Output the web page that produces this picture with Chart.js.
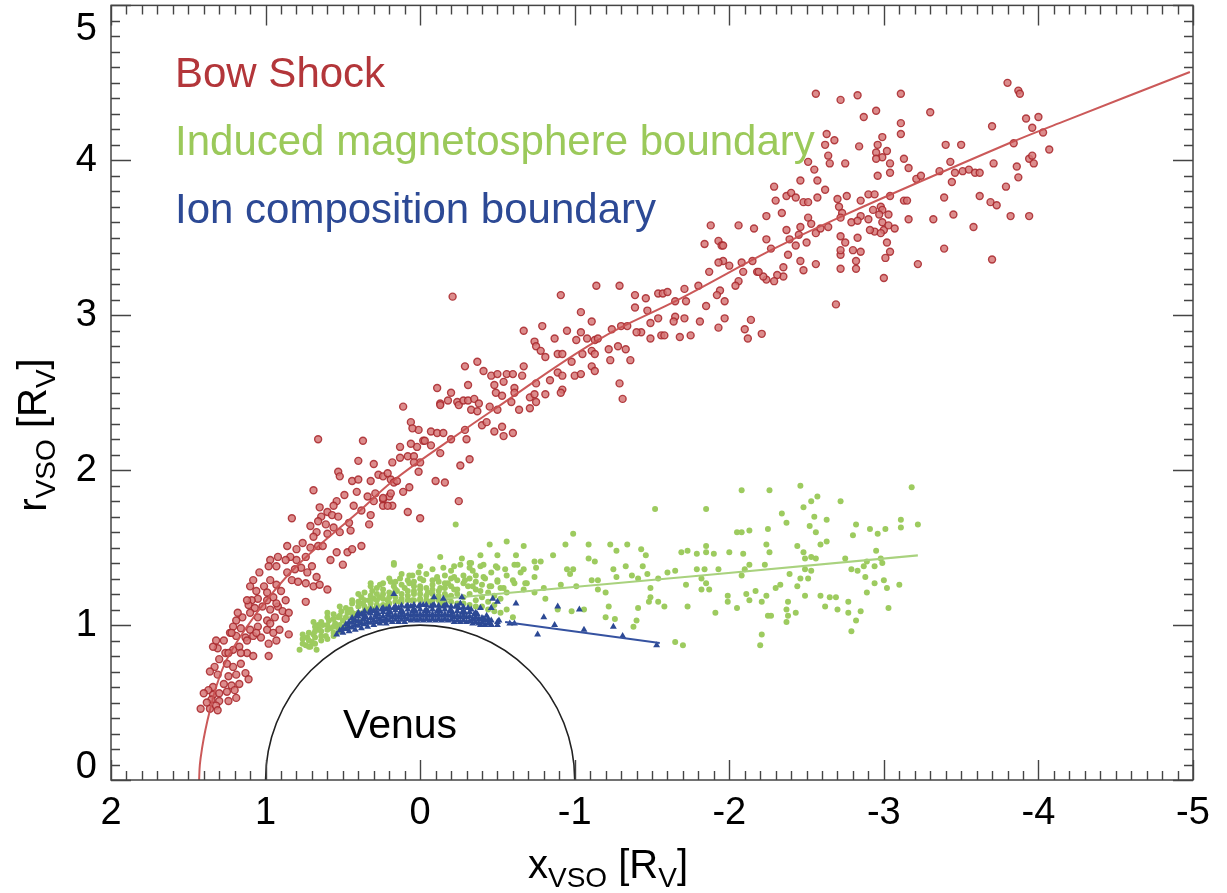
<!DOCTYPE html>
<html>
<head>
<meta charset="utf-8">
<script src="https://cdn.jsdelivr.net/npm/chart.js@4.4.1/dist/chart.umd.min.js"></script>
<style>
  body { margin: 0; background: #fff; }
  canvas { display: block; background: #fff; }
</style>
</head>
<body>
<canvas id="venusChart" width="1227" height="893"></canvas>
<script>
// bow shock crossings [x, r] in R_V
const bowShockPoints = [
  [0.11,2.41],[-0.13,2.43],[0.06,2.31],[0.01,2.26],[-0.07,2.25],[-0.11,2.24],[-0.15,2.24],[0.05,2.27],[0.66,2.20],[0.37,2.19],
  [-0.02,2.19],[0.02,2.15],[0.06,2.17],[0.13,2.15],[-0.13,2.11],[0.40,2.06],[0.30,2.04],[0.18,2.05],[0.13,2.08],[0.08,2.09],
  [0.0,2.05],[0.53,1.99],[0.52,1.96],[0.44,1.93],[0.40,1.94],[0.32,1.93],[0.27,1.97],[0.24,1.96],[0.19,1.94],[0.17,1.92],
  [0.07,1.89],[0.11,1.86],[-0.10,1.93],[-0.16,1.92],[0.69,1.87],[0.49,1.84],[0.41,1.86],[0.34,1.83],[0.29,1.85],[0.24,1.81],
  [0.20,1.83],[0.30,1.80],[0.54,1.80],[0.56,1.77],[0.60,1.73],[0.65,1.76],[0.64,1.70],[0.57,1.71],[0.53,1.70],[0.43,1.77],
  [0.38,1.74],[0.32,1.71],[0.24,1.77],[0.18,1.77],[0.08,1.73],[0.0,1.69],[0.83,1.69],[0.71,1.64],[0.66,1.67],[0.61,1.65],
  [0.67,1.60],[0.69,1.57],[0.60,1.59],[0.56,1.63],[0.52,1.60],[0.45,1.61],[0.46,1.66],[0.33,1.65],[0.86,1.51],[0.80,1.49],
  [0.76,1.53],[0.71,1.50],[0.66,1.51],[0.74,1.44],[0.80,1.42],[0.84,1.44],[0.87,1.42],[0.92,1.44],[0.97,1.42],[0.93,1.38],
  [0.63,1.51],[0.58,1.42],[0.54,1.47],[0.50,1.39],[0.47,1.47],[0.44,1.49],[0.38,1.51],[0.70,1.38],[0.67,1.31],[0.73,1.34],
  [0.77,1.37],[0.81,1.36],[0.86,1.34],[0.83,1.29],[0.79,1.28],[0.74,1.27],[0.69,1.25],[0.60,1.23],[0.65,1.26],[0.74,1.15],
  [0.98,1.38],[1.04,1.34],[1.08,1.29],[1.10,1.25],[1.06,1.22],[1.01,1.25],[0.97,1.29],[0.93,1.26],[0.90,1.22],[0.95,1.18],
  [0.99,1.16],[1.05,1.17],[1.09,1.16],[1.11,1.13],[1.07,1.11],[1.02,1.12],[0.97,1.10],[0.92,1.12],[0.89,1.09],[0.94,1.05],
  [0.99,1.03],[1.05,1.05],[1.10,1.08],[1.15,1.05],[1.19,1.03],[1.21,0.99],[1.16,0.98],[1.10,0.97],[1.05,0.99],[0.99,0.97],
  [0.95,0.95],[0.91,0.97],[0.93,0.90],[0.98,0.88],[1.03,0.92],[1.08,0.93],[1.13,0.92],[1.19,0.93],[1.23,0.95],[0.85,0.94],
  [0.98,0.80],[1.27,0.90],[1.31,0.85],[1.34,0.86],[1.26,0.82],[1.21,0.84],[1.17,0.86],[1.12,0.82],[1.08,0.80],[1.16,0.75],
  [1.21,0.73],[1.25,0.75],[1.30,0.78],[1.33,0.73],[1.36,0.70],[1.31,0.68],[1.24,0.67],[1.19,0.68],[1.13,0.69],[1.11,0.65],
  [1.17,0.62],[1.22,0.61],[1.27,0.62],[1.34,0.60],[1.37,0.58],[1.40,0.56],[1.34,0.55],[1.30,0.56],[1.25,0.57],[1.20,0.58],
  [1.19,0.53],[1.24,0.51],[1.30,0.51],[1.35,0.52],[1.38,0.50],[1.42,0.46],[1.36,0.46],[1.32,0.48],[1.31,0.45],[1.12,1.16],
  [1.18,1.08],[1.22,0.95],[1.32,0.90],[1.12,0.90],[0.85,1.08],[0.87,1.16],[0.99,1.21],[0.93,1.14],[0.87,1.04],[0.97,1.01],
  [1.06,0.95],[1.16,0.82],[1.24,0.82],
  [-0.20,2.20],[-0.29,2.26],[-0.30,2.20],[-0.25,1.80],[-0.26,2.03],[-0.32,2.07],[-0.03,2.19],[-0.07,2.16],[0.04,2.09],[0.21,1.98],
  [0.15,1.93],[0.19,1.85],[0.24,1.82],[0.21,1.77],[0.04,2.05],[0.01,1.99],
  [-0.21,3.12],[-0.11,2.53],[-0.13,2.42],[-0.18,2.45],[-0.20,2.50],[-0.24,2.44],[-0.25,2.42],[-0.28,2.45],[-0.31,2.45],[-0.35,2.46],
  [-0.38,2.43],[-0.33,2.39],[-0.37,2.38],[-0.29,2.67],[-0.31,2.55],[-0.37,2.70],[-0.41,2.64],[-0.46,2.61],[-0.50,2.62],[-0.56,2.62],
  [-0.60,2.62],[-0.66,2.61],[-0.67,2.67],[-0.48,2.55],[-0.54,2.57],[-0.61,2.53],[-0.61,2.50],[-0.49,2.50],[-0.53,2.48],[-0.59,2.44],
  [-0.45,2.41],[-0.50,2.39],[-0.64,2.39],[-0.71,2.47],[-0.75,2.44],[-0.74,2.49],[-0.71,2.40],[-0.75,2.56],[-0.81,2.49],[-0.40,2.29],
  [-0.43,2.31],[-0.48,2.25],[-0.53,2.28],[-0.54,2.22],[-0.60,2.24],[-0.79,2.93],[-0.67,2.90],[-0.74,2.83],[-0.75,2.80],[-0.78,2.77],
  [-0.81,2.73],[-0.87,2.85],[-0.89,2.75],[-0.92,2.75],[-0.84,2.58],[-0.89,2.63],[-0.92,2.61],[-0.92,2.52],[-0.91,2.50],[-0.98,2.70],
  [-1.00,2.61],[-1.04,2.62],[-1.01,2.84],[-1.04,2.89],[-1.08,2.85],[-1.13,2.84],[-1.15,2.85],[-1.11,2.77],[-1.05,2.75],[-1.13,2.75],
  [-1.11,2.67],[-1.13,2.64],[-0.95,2.90],[-0.91,3.13],[-1.04,3.02],[-1.11,2.96],[-1.14,3.19],[-1.29,3.19],[-1.24,2.91],[-1.23,2.71],
  [-1.22,2.78],[-1.28,2.80],[-1.33,2.78],[-1.36,2.71],[-1.29,2.56],[-1.31,2.46],[-1.30,2.93],[-1.34,2.93],[-1.39,3.13],[-1.39,3.05],
  [-1.46,3.11],[-1.47,3.03],[-1.49,2.95],[-1.49,2.85],[-1.43,2.89],[-1.40,2.89],[-1.54,2.98],[-1.54,3.14],[-1.57,3.14],[-1.60,3.15],
  [-1.56,2.87],[-1.58,2.87],[-1.65,3.09],[-1.65,2.99],[-1.64,2.96],[-1.68,2.86],
  [-2.69,3.07],[-2.21,2.88],[-2.14,2.97],[-2.10,2.91],[-2.12,2.85],[-1.97,2.98],[-1.93,2.92],[-1.97,3.09],[-1.85,3.06],[-1.81,2.96],
  [-1.75,2.87],[-1.71,2.98],[-1.72,3.09],
  [-2.56,4.43],[-2.72,4.39],[-2.83,4.42],[-3.11,4.43],[-2.95,4.32],[-2.87,4.28],[-3.30,4.31],[-3.80,4.50],[-3.87,4.45],[-3.88,4.43],
  [-3.92,4.27],[-4.00,4.28],[-3.96,4.21],[-4.07,4.07],[-3.70,4.22],[-3.11,4.24],[-3.11,4.17],[-2.99,4.15],[-2.96,4.10],[-3.02,4.06],
  [-2.95,4.05],[-2.99,4.02],[-2.95,4.01],[-3.04,3.98],[-3.13,4.01],[-3.16,3.95],[-3.04,3.92],[-2.84,4.09],[-2.75,3.98],[-2.63,4.17],
  [-2.68,4.13],[-2.62,4.10],[-2.64,4.03],[-2.65,3.98],[-2.51,3.99],[-2.55,3.94],[-2.57,3.87],[-2.46,3.87],[-2.62,3.81],[-2.29,3.83],
  [-2.30,3.74],[-2.37,3.77],[-2.40,3.79],[-2.43,3.76],[-2.34,3.66],[-2.24,3.64],[-2.48,3.73],[-2.51,3.73],[-2.57,3.76],[-2.70,3.75],
  [-2.76,3.77],[-2.71,3.70],[-2.73,3.66],[-2.72,3.63],[-2.79,3.60],[-2.85,3.74],[-2.90,3.78],[-2.94,3.78],[-3.04,3.77],[-2.96,3.90],
  [-2.93,3.68],[-2.98,3.70],[-2.99,3.68],[-2.97,3.65],[-3.03,3.65],[-2.90,3.62],[-2.85,3.64],[-2.83,3.61],[-2.99,3.60],[-3.00,3.55],
  [-3.03,3.58],[-3.07,3.56],[-2.94,3.54],[-2.98,3.53],[-2.91,3.55],[-3.02,3.47],[-3.04,3.41],[-3.01,3.37],[-3.00,3.24],[-2.83,3.50],
  [-2.80,3.42],[-2.85,3.41],[-2.82,3.35],[-2.82,3.30],[-2.72,3.30],[-2.72,3.39],[-2.72,3.42],[-2.75,3.47],[-2.72,3.51],[-2.51,3.63],
  [-2.53,3.59],[-2.46,3.57],[-2.45,3.52],[-2.50,3.47],[-2.56,3.53],[-2.59,3.56],[-2.64,3.57],[-2.46,3.35],[-2.48,3.29],[-2.56,3.33],
  [-2.38,3.39],[-2.43,3.45],[-2.37,3.55],[-2.39,3.49],[-2.35,3.31],[-2.35,3.25],[-2.31,3.26],[-2.29,3.22],[-2.24,3.23],[-2.22,3.25],
  [-2.18,3.28],[-2.08,3.34],[-2.09,3.28],[-2.06,3.22],[-2.04,3.19],[-2.00,3.32],[-1.96,3.35],[-1.93,3.34],[-1.93,3.48],[-1.95,3.45],
  [-1.96,3.45],[-1.84,3.46],[-1.88,3.58],[-2.06,3.58],[-2.16,3.56],[-2.24,3.49],[-2.27,3.43],[-1.87,3.28],[-1.71,3.17],[-1.80,3.19],
  [-1.94,3.16],[-1.92,3.13],[-2.15,3.35],[-2.19,3.28],
  [-3.21,3.88],[-3.24,3.90],[-3.36,3.93],[-3.43,3.99],[-3.40,4.10],[-3.50,4.10],[-3.46,3.92],[-3.51,3.93],[-3.55,3.94],[-3.59,3.92],
  [-3.62,3.92],[-3.44,3.86],[-3.39,3.76],[-3.45,3.65],[-3.32,3.62],[-3.39,3.43],[-3.22,3.33],[-3.58,3.57],[-3.62,3.77],[-3.69,3.73],
  [-3.73,3.71],[-3.71,3.98],[-3.79,3.83],[-3.82,3.64],[-3.86,3.96],[-3.87,3.89],[-3.84,4.11],[-3.94,3.64],[-3.94,4.01],[-3.96,4.03],
  [-3.97,3.98],[-3.70,3.36],[-4.03,4.18],[-3.13,3.74],[-3.15,3.74],[-3.16,3.62]
];

// induced magnetosphere boundary crossings
const imbPoints = [
  [0.78,0.84],[0.74,0.87],[0.70,0.89],[0.73,0.92],[0.69,0.94],[0.69,1.02],[0.65,0.97],[0.63,1.00],[0.59,1.03],[0.58,0.98],
  [0.55,1.01],[0.53,1.05],[0.50,1.03],[0.47,1.08],[0.45,1.10],[0.42,1.07],[0.40,1.12],[0.37,1.14],[0.34,1.10],[0.33,1.16],
  [0.30,1.17],[0.28,1.13],[0.26,1.18],[0.24,1.23],[0.21,1.16],[0.18,1.20],[0.17,1.25],[0.15,1.22],[0.12,1.17],[0.10,1.24],
  [0.07,1.27],[0.05,1.32],[0.04,1.22],[0.00,1.25],[-0.02,1.29],[-0.05,1.21],[-0.08,1.26],[-0.11,1.31],[-0.13,1.24],[-0.16,1.27],
  [-0.20,1.35],[-0.22,1.23],[-0.24,1.29],[-0.26,1.39],[-0.28,1.32],[-0.31,1.25],[-0.34,1.35],[-0.36,1.28],[-0.39,1.38],[-0.41,1.31],
  [-0.45,1.25],[-0.46,1.34],[-0.49,1.38],[-0.50,1.29],[-0.52,1.24],[-0.56,1.32],[-0.61,1.39],[-0.61,1.27],[-0.65,1.34],[-0.69,1.27],
  [-0.74,1.31],[0.17,1.40],[0.07,1.32],[-0.06,1.15],[-0.13,1.14],[-0.18,1.18],[0.39,1.02],[0.47,0.98],[0.56,0.95],[0.64,0.90],
  [0.71,0.86],[0.67,0.84],[0.76,0.94],[0.66,1.00],[0.60,1.05],[0.51,1.09],[0.44,1.14],[0.38,1.18],[0.31,1.22],[0.19,1.28],
  [0.13,1.30],[0.01,1.34],[-0.08,1.36],[-0.15,1.37],[-0.22,1.38],[-0.32,1.40],[0.26,1.26],[0.32,1.27],[0.00,1.38],[0.53,0.98],
  [0.61,0.93],[0.43,1.03],[0.30,1.10],[0.21,1.13],[0.13,1.15],[0.05,1.16],[0.00,1.17],
  [0.76,0.88],[0.76,0.91],[0.72,0.86],[0.72,0.90],[0.72,0.95],[0.68,0.88],[0.68,0.92],[0.68,0.96],[0.68,0.99],[0.64,0.93],
  [0.64,0.96],[0.64,1.02],[0.60,0.91],[0.60,0.97],[0.60,1.00],[0.60,1.08],[0.56,0.93],[0.56,0.99],[0.56,1.04],[0.56,1.07],
  [0.52,0.96],[0.52,1.00],[0.52,1.06],[0.52,1.12],[0.48,1.00],[0.48,1.05],[0.48,1.11],[0.44,1.05],[0.44,1.08],[0.44,1.16],
  [0.40,1.08],[0.40,1.15],[0.40,1.20],[0.36,1.09],[0.36,1.12],[0.36,1.16],[0.36,1.21],[0.32,1.11],[0.32,1.14],[0.32,1.19],
  [0.32,1.25],[0.28,1.12],[0.28,1.16],[0.28,1.20],[0.28,1.24],[0.24,1.13],[0.24,1.17],[0.24,1.20],[0.24,1.27],[0.20,1.14],
  [0.20,1.18],[0.20,1.21],[0.20,1.30],[0.16,1.15],[0.16,1.18],[0.16,1.23],[0.16,1.28],[0.12,1.15],[0.12,1.20],[0.12,1.26],
  [0.12,1.33],[0.08,1.16],[0.08,1.19],[0.08,1.22],[0.08,1.29],[0.04,1.16],[0.04,1.20],[0.04,1.25],[0.04,1.28],[0.00,1.16],
  [0.00,1.20],[0.00,1.23],[0.00,1.30],[-0.04,1.16],[-0.04,1.19],[-0.04,1.24],[-0.04,1.33],[-0.08,1.16],[-0.08,1.20],[-0.08,1.23],
  [-0.08,1.29],[-0.12,1.16],[-0.12,1.19],[-0.12,1.22],[-0.12,1.28],[-0.16,1.15],[-0.16,1.20],[-0.16,1.24],[-0.16,1.32],[-0.20,1.15],
  [-0.20,1.19],[-0.20,1.25],[-0.20,1.30],[-0.24,1.14],[-0.24,1.20],[-0.24,1.23],[-0.28,1.14],[-0.28,1.18],[-0.28,1.27],[-0.32,1.13],
  [-0.32,1.20],[-0.32,1.30],[-0.36,1.12],[-0.36,1.16],[-0.36,1.23],[-0.40,1.12],[-0.40,1.18],[-0.40,1.26],[-0.44,1.10],[-0.44,1.15],
  [-0.44,1.21],[-0.48,1.09],[-0.48,1.13],[-0.48,1.19],[-0.52,1.08],[-0.52,1.17],[-0.56,1.10],[-0.56,1.21],
  [-1.52,1.75],[-0.23,1.65],[-0.99,1.59],[-0.45,1.52],[-0.56,1.54],[-0.67,1.51],[-0.94,1.52],[-1.09,1.52],[-1.23,1.52],[-1.34,1.52],
  [-1.27,1.48],[-0.13,1.44],[-0.27,1.43],[-0.33,1.40],[-0.39,1.45],[-0.50,1.45],[-0.62,1.45],[-0.63,1.39],[-0.74,1.41],[-0.78,1.41],
  [-0.86,1.45],[-1.09,1.43],[-1.13,1.41],[-1.33,1.38],[-1.43,1.49],[-1.46,1.45],[-1.44,1.38],[-1.60,1.34],[-1.65,1.35],[-1.69,1.47],
  [-1.73,1.48],[0.17,1.39],[-0.32,1.37],[-0.41,1.39],[-0.50,1.37],[-0.55,1.36],[-0.67,1.36],[-0.75,1.37],[-0.95,1.36],[-0.99,1.36],
  [-0.97,1.33],[-1.25,1.36],[-1.27,1.31],[-1.37,1.32],[-1.47,1.33],[-1.11,1.29],[-1.15,1.29],[-1.41,1.30],[-1.54,1.30],[-1.49,1.24],
  [-1.49,1.18],[-1.41,1.11],[-1.58,1.12],[-1.73,1.12],[-1.54,1.15],[-1.48,1.15],[-1.20,1.21],[-1.20,1.05],[-1.26,1.04],[-1.40,1.03],
  [-1.38,0.99],[-1.65,0.89],[-1.70,0.87],[-1.22,1.12],[-1.06,1.10],[-0.98,1.09],[-0.89,1.10],[-0.81,1.17],[-0.74,1.21],[-0.67,1.23],
  [-1.15,1.23],[-1.01,1.25],[-0.91,1.26],[-0.80,1.24],[-0.68,1.27],[-0.60,1.29],[-0.50,1.28],[-0.42,1.30],[-0.46,1.25],[-0.54,1.24],
  [-0.60,1.05],[-0.29,1.29],[-0.36,1.32],[-0.34,1.25],[-0.39,1.22],[-0.22,1.31],[-0.18,1.27],[-0.11,1.30],
  [-2.08,1.87],[-2.26,1.87],[-2.46,1.90],[-3.18,1.89],[-1.85,1.75],[-2.57,1.83],[-2.53,1.80],[-2.48,1.76],[-2.72,1.80],[-2.34,1.72],
  [-2.55,1.70],[-2.37,1.66],[-2.63,1.68],[-2.52,1.64],[-2.56,1.60],[-2.82,1.65],[-3.22,1.65],[-3.11,1.68],[-3.11,1.63],[-3.01,1.62],
  [-2.96,1.59],[-2.91,1.62],[-2.80,1.58],[-2.05,1.60],[-2.08,1.60],[-2.13,1.61],[-2.25,1.62],[-2.24,1.52],[-2.26,1.47],[-2.44,1.51],
  [-2.48,1.47],[-2.59,1.52],[-2.63,1.54],[-1.79,1.46],[-1.85,1.47],[-1.85,1.51],[-1.90,1.46],[-2.00,1.47],[-2.09,1.46],[-2.49,1.43],
  [-2.53,1.44],[-2.56,1.43],[-2.75,1.43],[-2.95,1.48],[-2.98,1.43],[-2.89,1.41],[-2.87,1.38],[-2.94,1.38],[-2.99,1.40],[-2.83,1.35],
  [-2.79,1.36],[-2.88,1.31],[-3.00,1.29],[-2.94,1.27],[-3.02,1.24],[-3.10,1.26],[-2.89,1.21],[-1.79,1.36],[-1.84,1.36],[-1.93,1.36],
  [-2.10,1.36],[-2.13,1.39],[-2.23,1.39],[-2.49,1.36],[-2.53,1.35],[-2.08,1.32],[-1.82,1.30],[-1.72,1.26],[-1.85,1.27],[-1.82,1.23],
  [-1.87,1.23],[-2.39,1.33],[-2.46,1.30],[-2.51,1.30],[-2.44,1.25],[-2.33,1.26],[-2.30,1.24],[-2.17,1.22],[-2.11,1.20],[-1.99,1.19],
  [-1.99,1.15],[-2.13,1.16],[-2.21,1.15],[-2.24,1.19],[-2.05,1.11],[-1.91,1.08],[-2.38,1.15],[-2.37,1.10],[-2.38,1.06],[-2.43,1.08],
  [-2.25,1.06],[-2.27,1.06],[-2.37,1.02],[-2.49,1.19],[-2.59,1.19],[-2.62,1.12],[-2.65,1.18],[-2.69,1.18],[-2.70,1.10],[-2.77,1.15],
  [-2.77,1.08],[-2.85,1.09],[-2.82,1.03],[-2.79,0.96],[-3.03,1.11],[-2.21,0.94],[-2.20,0.87]
];

// ion composition boundary crossings
const icbPoints = [
  [0.54,0.94],[0.50,0.95],[0.50,0.98],[0.46,0.96],[0.46,0.99],[0.46,1.02],[0.42,0.97],[0.42,1.00],[0.42,1.03],[0.41,1.06],
  [0.38,0.98],[0.38,1.01],[0.37,1.04],[0.38,1.07],[0.34,0.99],[0.34,1.02],[0.35,1.05],[0.33,1.08],[0.30,1.00],[0.30,1.03],
  [0.29,1.06],[0.30,1.09],[0.26,1.01],[0.26,1.04],[0.27,1.07],[0.25,1.10],[0.22,1.01],[0.22,1.04],[0.21,1.07],[0.22,1.10],
  [0.18,1.02],[0.18,1.05],[0.19,1.08],[0.17,1.11],[0.14,1.02],[0.14,1.05],[0.13,1.08],[0.14,1.11],[0.10,1.02],[0.10,1.05],
  [0.11,1.08],[0.09,1.12],[0.06,1.03],[0.06,1.06],[0.05,1.09],[0.06,1.12],[0.02,1.03],[0.02,1.06],[0.03,1.09],[0.01,1.12],
  [-0.02,1.03],[-0.02,1.06],[-0.03,1.09],[-0.02,1.13],[-0.06,1.03],[-0.06,1.06],[-0.05,1.09],[-0.07,1.12],[-0.10,1.03],[-0.10,1.06],
  [-0.11,1.09],[-0.09,1.13],[-0.14,1.03],[-0.14,1.06],[-0.13,1.09],[-0.15,1.12],[-0.18,1.03],[-0.18,1.06],[-0.19,1.09],[-0.17,1.13],
  [-0.22,1.02],[-0.22,1.05],[-0.21,1.08],[-0.23,1.12],[-0.26,1.02],[-0.26,1.05],[-0.27,1.08],[-0.25,1.11],[-0.30,1.02],[-0.30,1.05],
  [-0.29,1.08],[-0.31,1.11],[-0.34,1.01],[-0.34,1.04],[-0.35,1.07],[-0.33,1.10],[-0.38,1.01],[-0.38,1.04],[-0.37,1.07],[-0.42,1.00],
  [-0.42,1.03],[-0.43,1.06],[-0.46,1.00],[-0.46,1.03],[-0.50,1.00],
  [0.52,0.965],[0.48,0.975],[0.48,1.005],[0.44,0.985],[0.44,1.015],[0.44,1.045],[0.40,0.995],[0.40,1.025],[0.40,1.055],[0.40,1.08],
  [0.36,1.005],[0.36,1.035],[0.36,1.065],[0.36,1.09],[0.32,1.015],[0.32,1.045],[0.32,1.075],[0.32,1.10],[0.28,1.02],[0.28,1.05],
  [0.28,1.08],[0.28,1.105],[0.24,1.025],[0.24,1.055],[0.24,1.085],[0.24,1.11],[0.20,1.03],[0.20,1.06],[0.20,1.09],[0.20,1.115],
  [0.16,1.035],[0.16,1.065],[0.16,1.095],[0.16,1.12],[0.12,1.035],[0.12,1.065],[0.12,1.095],[0.12,1.125],[0.08,1.04],[0.08,1.07],
  [0.08,1.10],[0.08,1.125],[0.04,1.04],[0.04,1.07],[0.04,1.10],[0.04,1.13],[0.00,1.04],[0.00,1.07],[0.00,1.10],[0.00,1.13],
  [-0.04,1.04],[-0.04,1.07],[-0.04,1.10],[-0.04,1.13],[-0.08,1.04],[-0.08,1.07],[-0.08,1.10],[-0.08,1.125],[-0.12,1.04],[-0.12,1.07],
  [-0.12,1.10],[-0.12,1.125],[-0.16,1.04],[-0.16,1.07],[-0.16,1.10],[-0.16,1.125],[-0.20,1.035],[-0.20,1.065],[-0.20,1.095],[-0.20,1.12],
  [-0.24,1.03],[-0.24,1.06],[-0.24,1.09],[-0.24,1.12],[-0.28,1.03],[-0.28,1.06],[-0.28,1.09],[-0.28,1.115],[-0.32,1.025],[-0.32,1.055],
  [-0.32,1.085],[-0.36,1.02],[-0.36,1.05],[-0.36,1.08],[-0.40,1.015],[-0.40,1.045],[-0.44,1.01],[-0.44,1.04],
  [0.17,1.20],[-0.09,1.18],[-0.15,1.17],[-0.27,1.18],[-0.26,1.14],[-0.39,1.11],[-0.46,1.11],[-0.47,1.17],[-0.50,1.15],[-0.62,1.14],
  [-0.89,1.12],[-1.03,1.10],[-0.80,1.05],[-0.76,0.94],[-0.87,1.00],[-1.06,0.97],[-1.25,0.99],[-1.31,0.93],[-1.53,0.87],[-0.41,1.04],
  [-0.45,1.02],[-0.50,1.02],[-0.58,1.01],[-0.61,1.01],[-0.39,1.00],[-0.46,1.00],[-0.51,1.03]
];

// fitted boundaries
const bowShockFit = [
  [1.43,0.00],[1.425,0.10],[1.41,0.21],[1.39,0.32],[1.36,0.45],[1.32,0.60],[1.25,0.78],[1.12,0.99],[0.97,1.19],[0.80,1.38],
  [0.60,1.56],[0.40,1.73],[0.17,1.935],[-0.20,2.20],[-0.46,2.38],[-1.15,2.84],[-1.69,3.11],[-2.27,3.42],[-2.73,3.64],[-3.81,4.11],
  [-4.16,4.25],[-4.98,4.57]
];
const imbFit = [[-0.15,1.17],[-1.82,1.32],[-3.22,1.45]];
const icbFit = [[-0.55,1.02],[-1.55,0.885]];

const venusRadius = 1;
const xTicks = [2, 1, 0, -1, -2, -3, -4, -5];
const yTicks = [0, 1, 2, 3, 4, 5];

const legendLabels = ['Bow Shock', 'Induced magnetosphere boundary', 'Ion composition boundary'];
const legendColors = ['#b3363a', '#9bc95a', '#2c4995'];

const FONT = "'Liberation Sans', Arial, Helvetica, sans-serif";

function toXY(list) {
  return list.map(p => ({ x: p[0], y: p[1] }));
}

// draws text with subscript pieces, returns width
function drawParts(ctx, parts, x, y, big, small, measureOnly) {
  let cx = x;
  parts.forEach(p => {
    ctx.font = (p[1] ? small : big) + 'px ' + FONT;
    if (!measureOnly) ctx.fillText(p[0], cx, p[1] ? y + 9 : y);
    cx += ctx.measureText(p[0]).width;
  });
  return cx - x;
}

const framePlugin = {
  id: 'framePlugin',
  beforeDatasetsDraw(chart) {
    const ctx = chart.ctx;
    const xs = chart.scales.x, ys = chart.scales.y;
    const a = chart.chartArea;
    ctx.save();
    ctx.beginPath();
    ctx.rect(a.left, a.top, a.right - a.left, a.bottom - a.top);
    ctx.clip();
    const cx = xs.getPixelForValue(0);
    const cy = ys.getPixelForValue(0);
    const rx = Math.abs(xs.getPixelForValue(venusRadius) - cx);
    const ry = Math.abs(ys.getPixelForValue(venusRadius) - cy);
    ctx.beginPath();
    ctx.ellipse(cx, cy, rx, ry, 0, Math.PI, 2 * Math.PI);
    ctx.strokeStyle = '#222';
    ctx.lineWidth = 1.6;
    ctx.stroke();
    ctx.restore();

    ctx.save();
    ctx.fillStyle = '#000';
    ctx.font = '41px ' + FONT;
    ctx.textAlign = 'center';
    ctx.textBaseline = 'alphabetic';
    ctx.fillText('Venus', xs.getPixelForValue(0.13), ys.getPixelForValue(0.27));
    ctx.restore();
  },
  afterDatasetsDraw(chart) {
    const ctx = chart.ctx;
    const xs = chart.scales.x, ys = chart.scales.y;
    const a = chart.chartArea;
    ctx.save();
    ctx.strokeStyle = '#444';
    ctx.lineWidth = 1.5;
    ctx.strokeRect(a.left, a.top, a.right - a.left, a.bottom - a.top);

    // inward ticks on all four sides, minor every 0.1
    ctx.beginPath();
    for (let i = -50; i <= 20; i++) {
      const px = Math.round(xs.getPixelForValue(i / 10)) + 0.5;
      const len = (i % 10 === 0) ? 20 : 9;
      ctx.moveTo(px, a.bottom); ctx.lineTo(px, a.bottom - len);
      ctx.moveTo(px, a.top); ctx.lineTo(px, a.top + len);
    }
    for (let i = 0; i <= 50; i++) {
      const py = Math.round(ys.getPixelForValue(i / 10)) + 0.5;
      const len = (i % 10 === 0) ? 20 : 9;
      ctx.moveTo(a.left, py); ctx.lineTo(a.left + len, py);
      ctx.moveTo(a.right, py); ctx.lineTo(a.right - len, py);
    }
    ctx.lineWidth = 1.4;
    ctx.stroke();

    // y tick labels (kept inside the frame height like the original)
    ctx.fillStyle = '#000';
    ctx.font = '38px ' + FONT;
    ctx.textAlign = 'right';
    ctx.textBaseline = 'middle';
    yTicks.forEach(v => {
      let py = ys.getPixelForValue(v);
      py = Math.min(Math.max(py, a.top + 24), a.bottom - 12);
      ctx.fillText(String(v), a.left - 14, py);
    });

    // legend text
    ctx.textBaseline = 'alphabetic';
    ctx.textAlign = 'left';
    ctx.font = '42px ' + FONT;
    legendLabels.forEach((t, i) => {
      ctx.fillStyle = legendColors[i];
      ctx.fillText(t, a.left + 64, a.top + 82 + i * 68);
    });

    // axis titles with subscripts
    ctx.fillStyle = '#000';
    const xParts = [['x', 0], ['VSO', 1], [' [R', 0], ['V', 1], [']', 0]];
    const w = drawParts(ctx, xParts, 0, 0, 40, 28, true);
    drawParts(ctx, xParts, 608 - w / 2, 878, 40, 28, false);

    const yParts = [['r', 0], ['VSO', 1], [' [R', 0], ['V', 1], [']', 0]];
    const wy = drawParts(ctx, yParts, 0, 0, 40, 28, true);
    ctx.translate(46, 435);
    ctx.rotate(-Math.PI / 2);
    drawParts(ctx, yParts, -wy / 2, 0, 40, 28, false);
    ctx.restore();
  }
};

const chart = new Chart(document.getElementById('venusChart').getContext('2d'), {
  type: 'scatter',
  data: {
    datasets: [
      {
        label: 'Bow Shock',
        data: toXY(bowShockPoints),
        pointStyle: 'circle',
        pointRadius: 3.5,
        borderWidth: 1.4,
        borderColor: 'rgba(168,38,42,0.85)',
        backgroundColor: 'rgba(214,120,120,0.85)',
        order: 6
      },
      {
        label: 'Bow Shock fit',
        data: toXY(bowShockFit),
        showLine: true,
        pointRadius: 0,
        borderColor: 'rgba(200,80,80,0.95)',
        borderWidth: 2,
        tension: 0.4,
        order: 5
      },
      {
        label: 'IMB',
        data: toXY(imbPoints),
        pointStyle: 'circle',
        pointRadius: 3,
        borderWidth: 0,
        backgroundColor: '#9dcb5f',
        order: 4
      },
      {
        label: 'IMB fit',
        data: toXY(imbFit),
        showLine: true,
        pointRadius: 0,
        borderColor: '#a9d27e',
        borderWidth: 2.2,
        order: 3
      },
      {
        label: 'ICB',
        data: toXY(icbPoints),
        pointStyle: 'triangle',
        pointRadius: 4,
        borderWidth: 0,
        backgroundColor: '#2c4995',
        order: 2
      },
      {
        label: 'ICB fit',
        data: toXY(icbFit),
        showLine: true,
        pointRadius: 0,
        borderColor: '#3552a0',
        borderWidth: 2,
        order: 1
      }
    ]
  },
  options: {
    responsive: false,
    animation: false,
    devicePixelRatio: 1,
    layout: { padding: { top: 5, right: 34, left: 0, bottom: 0 } },
    plugins: { legend: { display: false }, tooltip: { enabled: false } },
    scales: {
      x: {
        type: 'linear',
        min: -5, max: 2,
        reverse: true,
        afterBuildTicks: s => { s.ticks = xTicks.map(v => ({ value: v })); },
        afterFit: s => { s.height = 113; },
        ticks: { color: '#000', font: { size: 38, family: FONT }, padding: 11, maxRotation: 0, autoSkip: false },
        grid: { display: false, drawTicks: false },
        border: { display: false }
      },
      y: {
        type: 'linear',
        min: 0, max: 5,
        afterBuildTicks: s => { s.ticks = yTicks.map(v => ({ value: v })); },
        afterFit: s => { s.width = 111; },
        ticks: { display: false },
        grid: { display: false, drawTicks: false },
        border: { display: false }
      }
    }
  },
  plugins: [framePlugin]
});
</script>
</body>
</html>
